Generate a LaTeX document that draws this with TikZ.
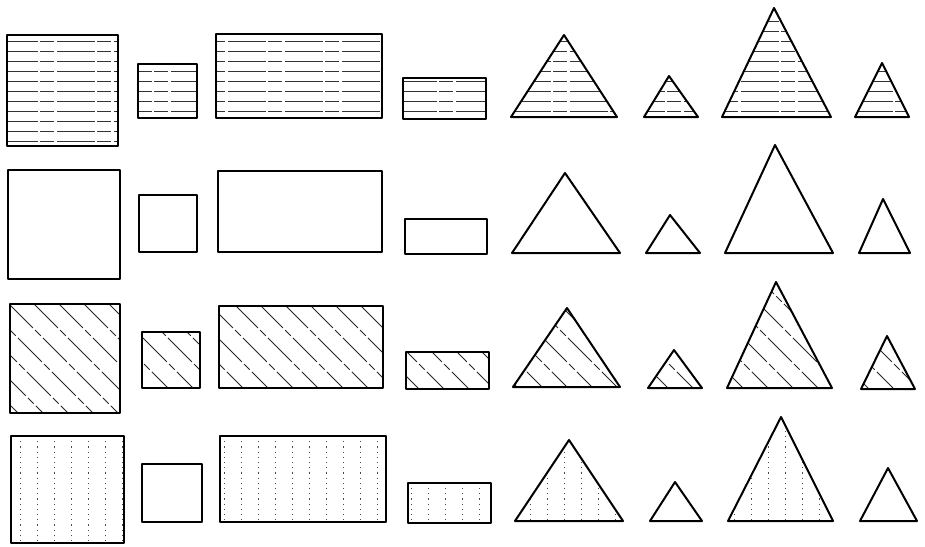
\documentclass[tikz,border=0pt]{standalone}
\begin{document}
\begin{tikzpicture}[x=1pt,y=-1pt,
  outline/.style={draw=black,line width=2pt,line join=round},
  hh/.style={black!80,line width=0.75pt,dash pattern=on 38pt off 2pt on 14pt off 3pt},
  dh/.style={black!85,line width=0.75pt,dash pattern=on 34pt off 3pt on 8pt off 3pt},
  vh/.style={black!70,line width=0.9pt,dash pattern=on 1.2pt off 4pt}]
\useasboundingbox (0,0) rectangle (925,546);
\newcommand\hatchH[1]{\begin{scope}\clip #1; \foreach \yy in {21,31,...,541} \draw[hh] (0,\yy)--(925,\yy); \end{scope}\draw[outline] #1;}
\newcommand\hatchD[1]{\begin{scope}\clip #1; \foreach \cc in {-200,-175,...,925} \draw[dh] (\cc,270)--++(160,160); \end{scope}\draw[outline] #1;}
\newcommand\hatchV[1]{\begin{scope}\clip #1; \foreach \cc in {3,20,...,925} \draw[vh] (\cc,410)--(\cc,546); \end{scope}\draw[outline] #1;}
\newcommand\plain[1]{\draw[outline] #1;}
% row 1: horizontal hatching
\hatchH{(7,35) rectangle (118,146)}
\hatchH{(138,64) rectangle (197,118)}
\hatchH{(216,34) rectangle (382,118)}
\hatchH{(403,78) rectangle (486,119)}
\hatchH{(564,35) -- (617,117) -- (511,117) -- cycle}
\hatchH{(669,76) -- (698,117) -- (644,117) -- cycle}
\hatchH{(774,8) -- (831,117) -- (722,117) -- cycle}
\hatchH{(882,63) -- (909,117) -- (855,117) -- cycle}
% row 2: empty
\plain{(8,170) rectangle (120,279)}
\plain{(139,195) rectangle (197,252)}
\plain{(218,171) rectangle (382,252)}
\plain{(405,219) rectangle (487,254)}
\plain{(565,173) -- (620,253) -- (512,253) -- cycle}
\plain{(670,215) -- (700,253) -- (646,253) -- cycle}
\plain{(775,145) -- (833,253) -- (725,253) -- cycle}
\plain{(883,199) -- (910,253) -- (859,253) -- cycle}
% row 3: diagonal hatching
\hatchD{(10,304) rectangle (120,413)}
\hatchD{(142,332) rectangle (200,388)}
\hatchD{(219,306) rectangle (383,388)}
\hatchD{(406,352) rectangle (489,389)}
\hatchD{(567,308) -- (620,387) -- (513,387) -- cycle}
\hatchD{(674,350) -- (702,388) -- (648,388) -- cycle}
\hatchD{(776,282) -- (832,388) -- (727,388) -- cycle}
\hatchD{(887,336) -- (915,389) -- (861,389) -- cycle}
% row 4: vertical dotted hatching
\hatchV{(11,436) rectangle (124,543)}
\plain{(142,464) rectangle (202,522)}
\hatchV{(220,436) rectangle (386,522)}
\hatchV{(408,483) rectangle (491,523)}
\hatchV{(569,440) -- (623,521) -- (515,521) -- cycle}
\plain{(675,482) -- (702,521) -- (650,521) -- cycle}
\hatchV{(781,417) -- (833,521) -- (728,521) -- cycle}
\plain{(888,468) -- (917,521) -- (860,521) -- cycle}
\end{tikzpicture}
\end{document}
